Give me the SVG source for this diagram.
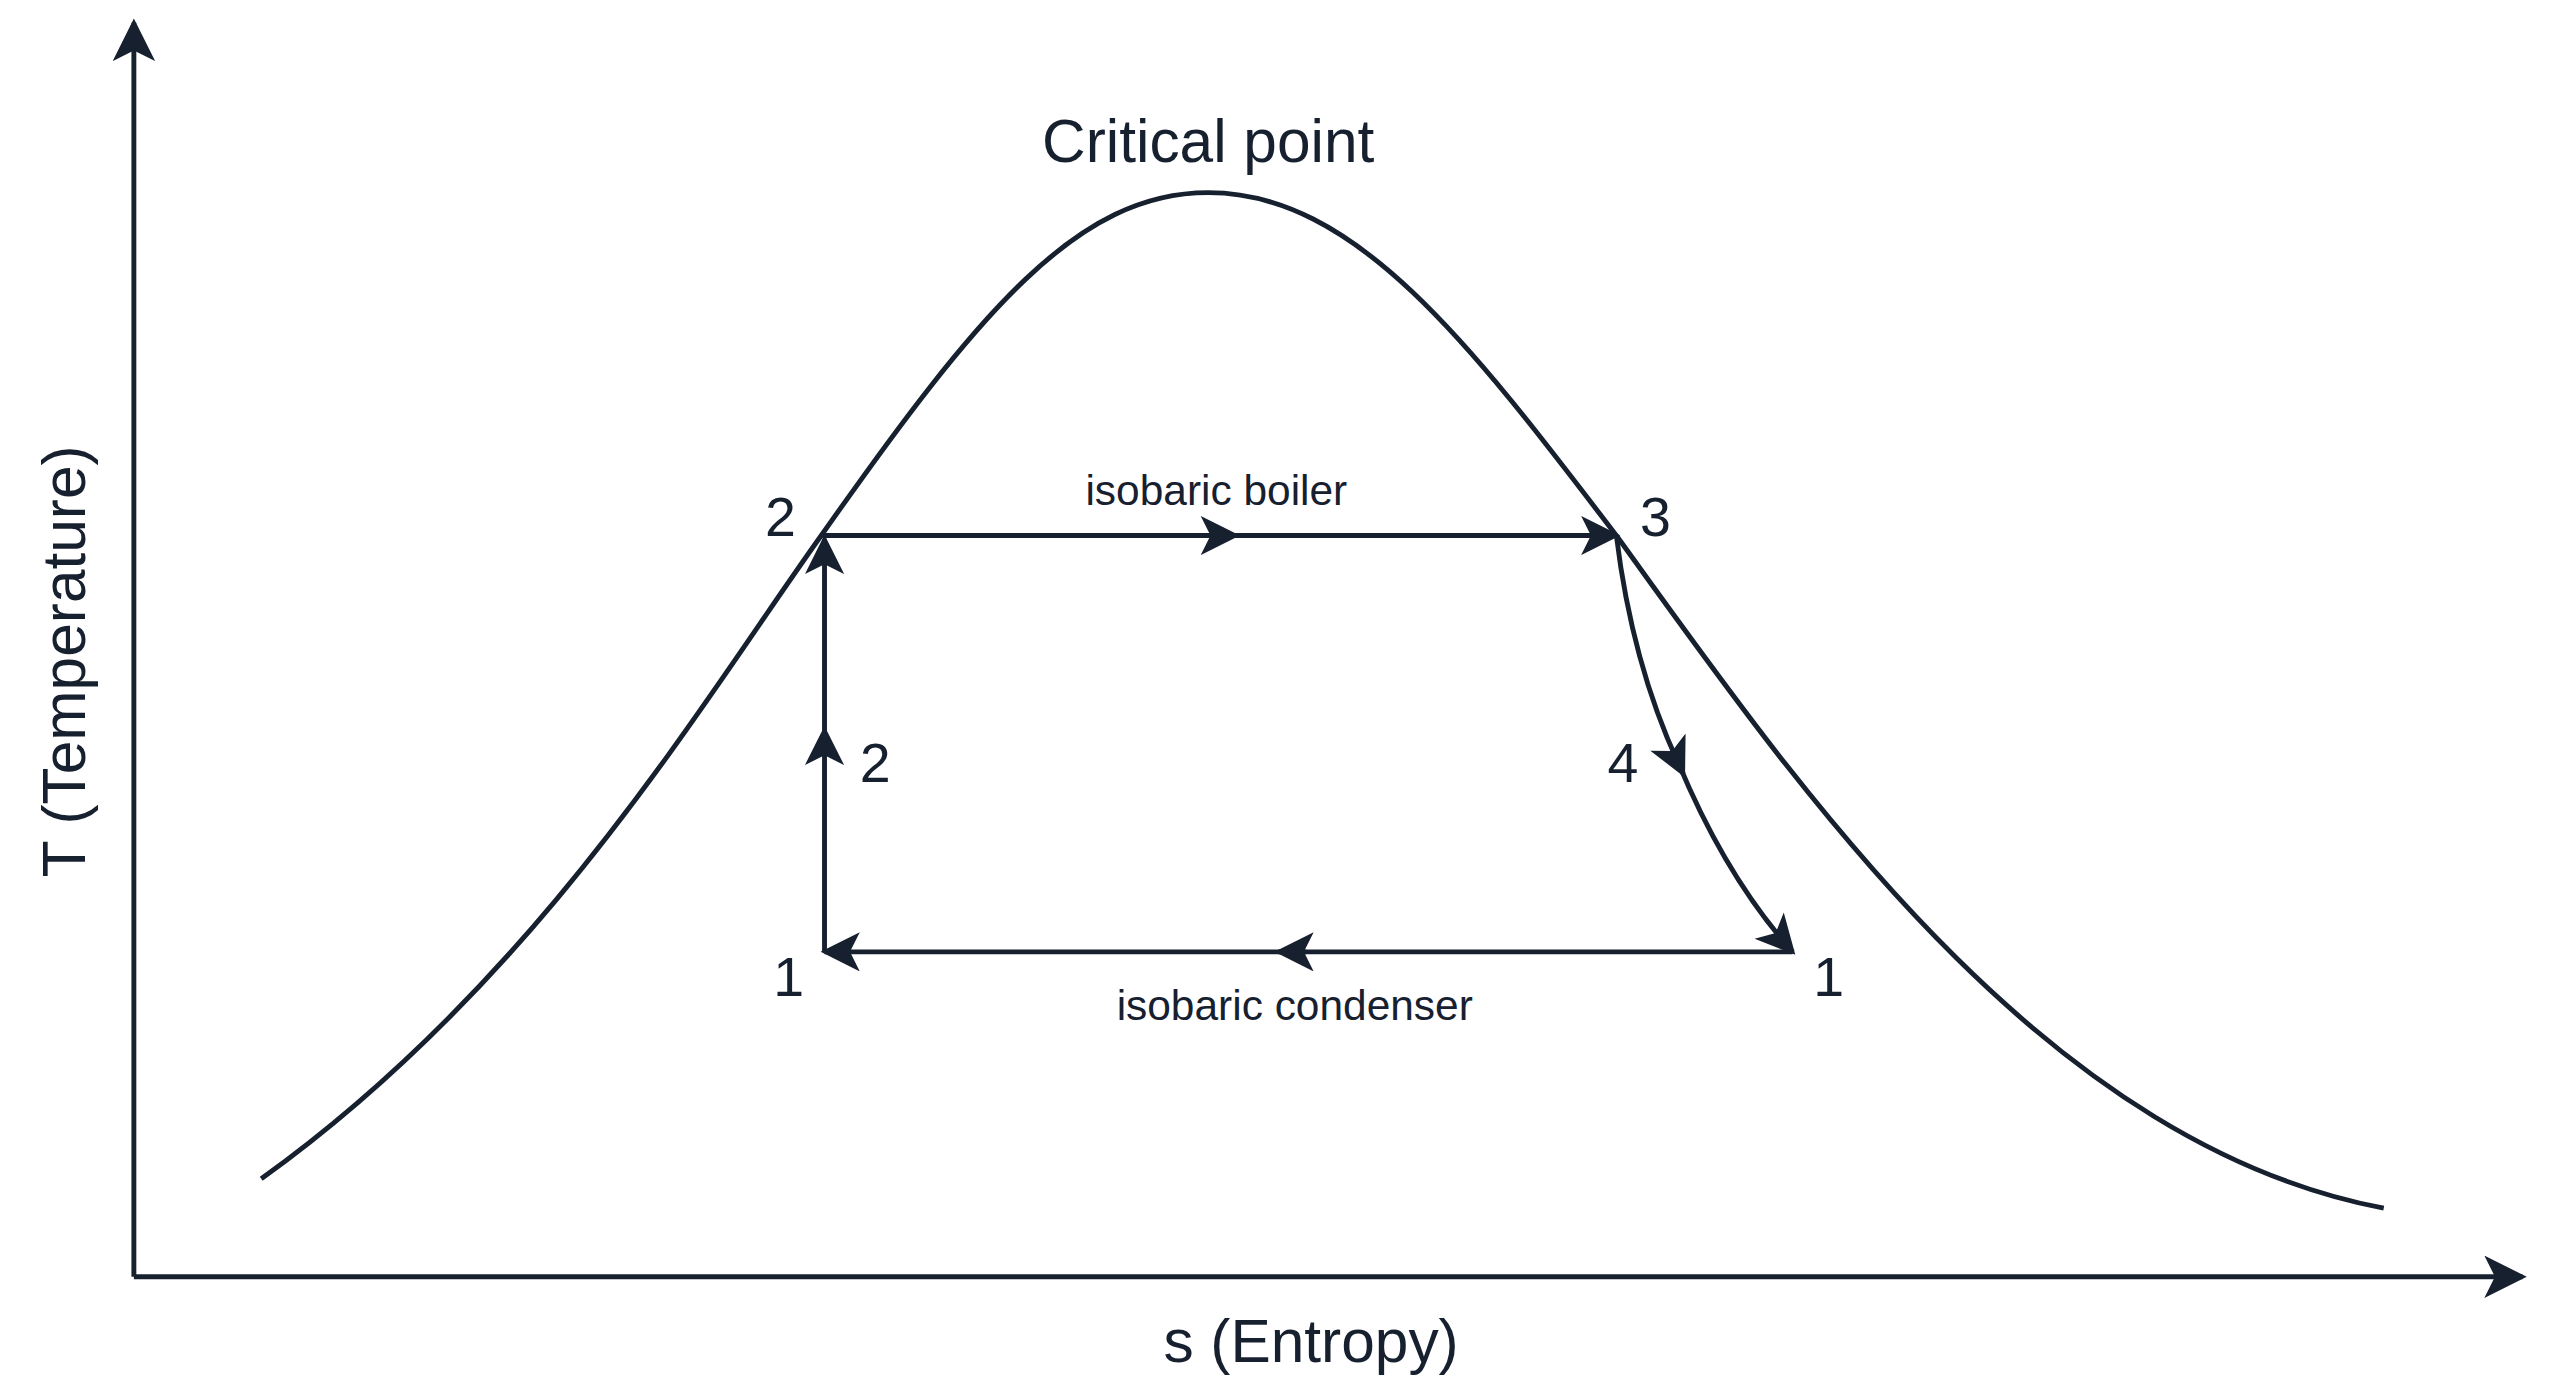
<svg xmlns="http://www.w3.org/2000/svg" width="2560" height="1396" viewBox="0 0 2560 1396">
<style>
.l{fill:none;stroke:#17202f;stroke-width:3}
text{font-family:"Liberation Sans",Arial,sans-serif;fill:#17202f}
.n{font-size:34px}
.s{font-size:26px}
.b{font-size:37px}
</style>
<defs>
<marker id="a" viewBox="0 0 20 20" refX="18" refY="10" markerWidth="27" markerHeight="24" markerUnits="userSpaceOnUse" orient="auto"><path d="M0,0 L20,10 L0,20 L5,10 z" fill="#17202f"/></marker>
<marker id="ax" viewBox="0 0 20 20" refX="18" refY="10" markerWidth="30" markerHeight="26" markerUnits="userSpaceOnUse" orient="auto"><path d="M0,0 L20,10 L0,20 L5,10 z" fill="#17202f"/></marker>
</defs>
<rect width="2560" height="1396" fill="#fff"/>
<g transform="scale(1.6327)">
<g id="axes">
<path class="l" d="M82,782 V14" marker-end="url(#ax)"/>
<path class="l" d="M82,782 H1545" marker-end="url(#ax)"/>
<text class="b" x="803" y="834" text-anchor="middle">s (Entropy)</text>
<text class="b" transform="translate(52,405) rotate(-90)" text-anchor="middle">T (Temperature)</text>
</g>
<g id="dome">
<path class="l" d="M160,722 C330,600 430,430 503,328 C600,190 660,118 740,118 C830,118 900,210 990,328 C1100,480 1250,700 1460,740"/>
<text class="b" x="740" y="99" text-anchor="middle">Critical point</text>
</g>
<g id="connectors">
<path class="l" d="M503,328 H757" marker-end="url(#a)"/>
<path class="l" d="M740,328 H990" marker-end="url(#a)"/>
<path class="l" d="M505,583 V447" marker-end="url(#a)"/>
<path class="l" d="M505,460 V330" marker-end="url(#a)"/>
<path class="l" d="M990,328 Q1000,410 1031,474" marker-end="url(#a)"/>
<path class="l" d="M1025,460 Q1055,535 1098,583" marker-end="url(#a)"/>
<path class="l" d="M1098,583 H783" marker-end="url(#a)"/>
<path class="l" d="M800,583 H505" marker-end="url(#a)"/>
</g>
<g id="labels">
<text class="s" x="745" y="309" text-anchor="middle">isobaric boiler</text>
<text class="s" x="793" y="625" text-anchor="middle">isobaric condenser</text>
<text class="n" x="478" y="328" text-anchor="middle">2</text>
<text class="n" x="1014" y="328" text-anchor="middle">3</text>
<text class="n" x="536" y="479" text-anchor="middle">2</text>
<text class="n" x="994" y="479" text-anchor="middle">4</text>
<text class="n" x="483" y="610" text-anchor="middle">1</text>
<text class="n" x="1120" y="610" text-anchor="middle">1</text>
</g>
</g>
</svg>
